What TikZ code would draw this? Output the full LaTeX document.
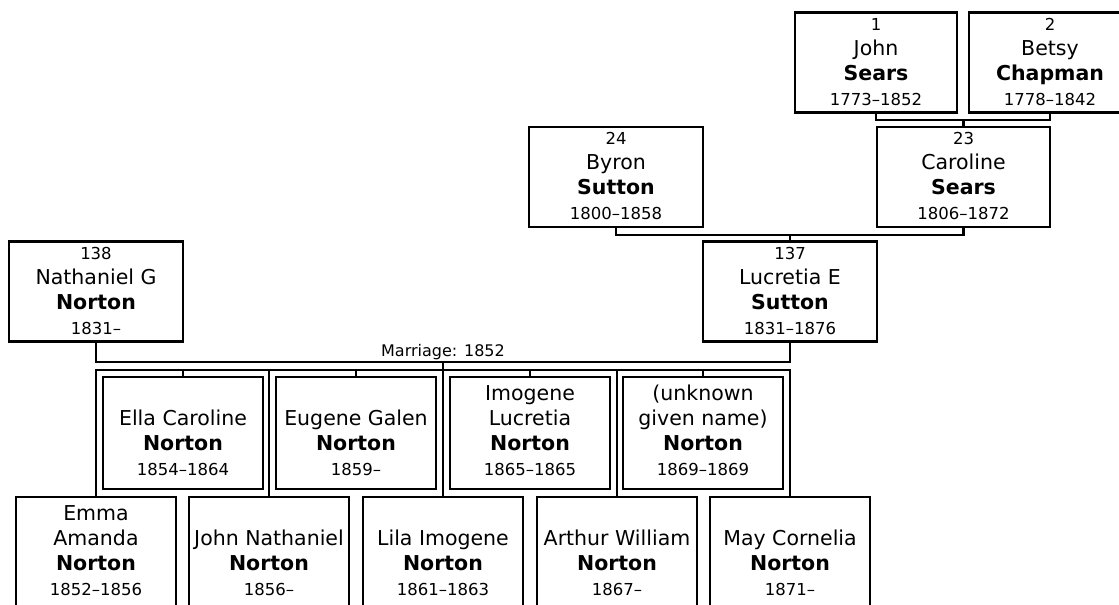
\documentclass[tikz,border=0pt]{standalone}
\usepackage{fontspec}
\setmainfont{DejaVu Sans}
\usepackage{tikz}
\newcommand{\smallfont}{\fontsize{16.5}{25}\selectfont}
\newcommand{\card}[4]{\strut #1\\\strut #2\\\strut\textbf{#3}\\\strut{\smallfont #4}}

\begin{document}
\begin{tikzpicture}[x=1pt,y=-1pt,line width=2.6pt,line cap=rect,
  parent/.style={draw,minimum width=174pt,minimum height=99pt,inner sep=0pt,align=center,font=\fontsize{20.5}{25}\selectfont},
  child/.style={parent,minimum width=160pt,minimum height=112pt}]
\useasboundingbox (0,0) rectangle (1119,605);

\node[parent,minimum width=162pt] (p1) at (876,62.5) {\card{{\smallfont 1}}{John}{Sears}{1773--1852}};
\node[parent,minimum width=162pt] (p2) at (1050,62.5) {\card{{\smallfont 2}}{Betsy}{Chapman}{1778--1842}};
\node[parent,minimum width=173pt] (p23) at (963.5,177) {\card{{\smallfont 23}}{Caroline}{Sears}{1806--1872}};
\node[parent] (p24) at (616,177) {\card{{\smallfont 24}}{Byron}{Sutton}{1800--1858}};
\node[parent] (p138) at (96,291.5) {\card{{\smallfont 138}}{Nathaniel G}{Norton}{1831--}};
\node[parent] (p137) at (790,291.5) {\card{{\smallfont 137}}{Lucretia E}{Sutton}{1831--1876}};

\node[child] (c1) at (96,553) {\card{Emma}{Amanda}{Norton}{1852--1856}};
\node[child] (c2) at (183,433) {\card{}{Ella Caroline}{Norton}{1854--1864}};
\node[child] (c3) at (269,553) {\card{}{John Nathaniel}{Norton}{1856--}};
\node[child] (c4) at (356,433) {\card{}{Eugene Galen}{Norton}{1859--}};
\node[child] (c5) at (443,553) {\card{}{Lila Imogene}{Norton}{1861--1863}};
\node[child] (c6) at (530,433) {\card{Imogene}{Lucretia}{Norton}{1865--1865}};
\node[child] (c7) at (617,553) {\card{}{Arthur William}{Norton}{1867--}};
\node[child] (c8) at (703,433) {\card{(unknown}{given name)}{Norton}{1869--1869}};
\node[child] (c9) at (790,553) {\card{}{May Cornelia}{Norton}{1871--}};

\coordinate (j1) at (963.5,120);
\draw (p1.south) |- (j1) -| (p2.south);
\draw (j1) -- (p23.north);

\coordinate (j2) at (790,235);
\draw (p24.south) |- (j2) -| (p23.south);
\draw (j2) -- (p137.north);

\coordinate (m) at (443,362);
\draw (p138.south) |- (m) -| (p137.south);
\node[above,inner sep=1pt,font=\fontsize{16}{19}\selectfont] (mlab) at (m) {Marriage: 1852};

\coordinate (bar) at (443,370);
\draw (m) -- (bar);
\draw (c1.north |- bar) -- (c9.north |- bar);
\draw (c1.north |- bar) -- (c1.north);
\draw (c2.north |- bar) -- (c2.north);
\draw (c3.north |- bar) -- (c3.north);
\draw (c4.north |- bar) -- (c4.north);
\draw (c5.north |- bar) -- (c5.north);
\draw (c6.north |- bar) -- (c6.north);
\draw (c7.north |- bar) -- (c7.north);
\draw (c8.north |- bar) -- (c8.north);
\draw (c9.north |- bar) -- (c9.north);
\end{tikzpicture}
\end{document}
